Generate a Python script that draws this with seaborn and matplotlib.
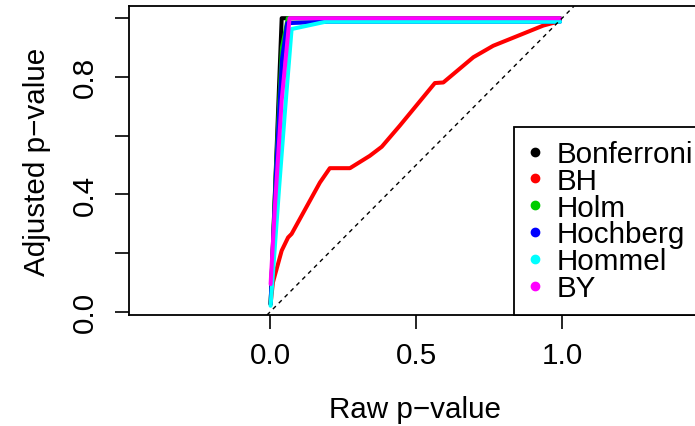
import numpy as np
import pandas as pd
import matplotlib
matplotlib.use("Agg")
import matplotlib.pyplot as plt
from matplotlib.lines import Line2D
import seaborn as sns

# p.adjust curves, vertices (raw p -> adjusted p)
methods = ["Bonferroni", "BH", "Holm", "Hochberg", "Hommel", "BY"]
colors = ["black", "red", "#00CD00", "blue", "cyan", "magenta"]

bonf_x = [0.001, 0.039, 0.05, 0.993]
bonf_y = [0.026, 1.0, 1.0, 1.0]
bh_x = [0.001, 0.009, 0.039, 0.061, 0.073, 0.17, 0.204, 0.273, 0.341, 0.382,
        0.444, 0.564, 0.593, 0.696, 0.764, 0.936, 0.993]
bh_y = [0.026, 0.10, 0.208, 0.253, 0.265, 0.44, 0.489, 0.489, 0.531, 0.562,
        0.634, 0.779, 0.781, 0.867, 0.906, 0.975, 0.99]
holm_x = [0.001, 0.02, 0.04, 0.06, 0.993]
holm_y = [0.026, 0.5, 0.9, 1.0, 1.0]
hoch_x = [0.001, 0.02, 0.04, 0.058, 0.19, 0.993]
hoch_y = [0.026, 0.48, 0.86, 0.983, 0.988, 0.988]
homm_x = [0.001, 0.03, 0.05, 0.073, 0.19, 0.993]
homm_y = [0.02, 0.42, 0.68, 0.963, 0.988, 0.988]
by_x = [0.001, 0.016, 0.039, 0.066, 0.993]
by_y = [0.094, 0.36, 0.72, 1.0, 1.0]

xticks = [0.0, 0.5, 1.0]
xtick_labels = ["0.0", "0.5", "1.0"]
yticks = [0.0, 0.2, 0.4, 0.6, 0.8, 1.0]
ytick_labels = ["0.0", "", "0.4", "", "0.8", ""]

series_x = [bonf_x, bh_x, holm_x, hoch_x, homm_x, by_x]
series_y = [bonf_y, bh_y, holm_y, hoch_y, homm_y, by_y]
frames = []
for m, xs, ys in zip(methods, series_x, series_y):
    frames.append(pd.DataFrame({"raw": xs, "adj": ys, "method": m,
                                "order": np.arange(len(xs))}))
df = pd.concat(frames, ignore_index=True)

sns.set_theme(style="white")
plt.rcParams["font.family"] = ["Liberation Sans", "DejaVu Sans"]
plt.rcParams["text.color"] = "black"
FS = 21.3

fig = plt.figure(figsize=(6.95, 4.27), dpi=100)
ax = fig.add_axes([0.1849, 0.26, 0.8245, 0.7229])

sns.lineplot(data=df, x="raw", y="adj", hue="method", hue_order=methods,
             palette=dict(zip(methods, colors)), sort=False, estimator=None,
             units="method", linewidth=2.9, legend=False, ax=ax)
ax.axline((0, 0), slope=1, color="black", lw=1.0, linestyle=(0, (3, 3)))

ax.set_xlim(-0.486, 1.478)
ax.set_ylim(-0.0112, 1.0405)
ax.set_xticks(xticks)
ax.set_xticklabels(xtick_labels)
ax.set_yticks(yticks)
ax.set_yticklabels(ytick_labels, rotation=90, va="center")
ax.tick_params(axis="both", direction="out", length=10, width=1.2,
               color="black", labelsize=FS, labelcolor="black")
ax.tick_params(axis="x", pad=9, bottom=True)
ax.tick_params(axis="y", pad=11, left=True)
for s in ax.spines.values():
    s.set_color("black")
    s.set_linewidth(1.3)

ax.set_xlabel("Raw p\u2212value", fontsize=FS, color="black", va="center")
ax.set_ylabel("Adjusted p\u2212value", fontsize=FS, color="black", va="center")
ax.xaxis.set_label_coords(0.5, -0.305)
ax.yaxis.set_label_coords(-0.16, 0.5)

handles = [Line2D([], [], marker="o", linestyle="none", markersize=6,
                  markerfacecolor=c, markeredgecolor=c) for c in colors]
leg = ax.legend(handles, methods, loc="lower left", bbox_to_anchor=(0.673, 0.0),
                fontsize=FS, frameon=True, fancybox=False, framealpha=1,
                edgecolor="black", borderpad=0.44, labelspacing=-0.04,
                handlelength=0.54, handletextpad=0.44, borderaxespad=0)
leg.get_frame().set_linewidth(1.3)
for t in leg.get_texts():
    t.set_color("black")

fig.savefig("out.png", dpi=100)
